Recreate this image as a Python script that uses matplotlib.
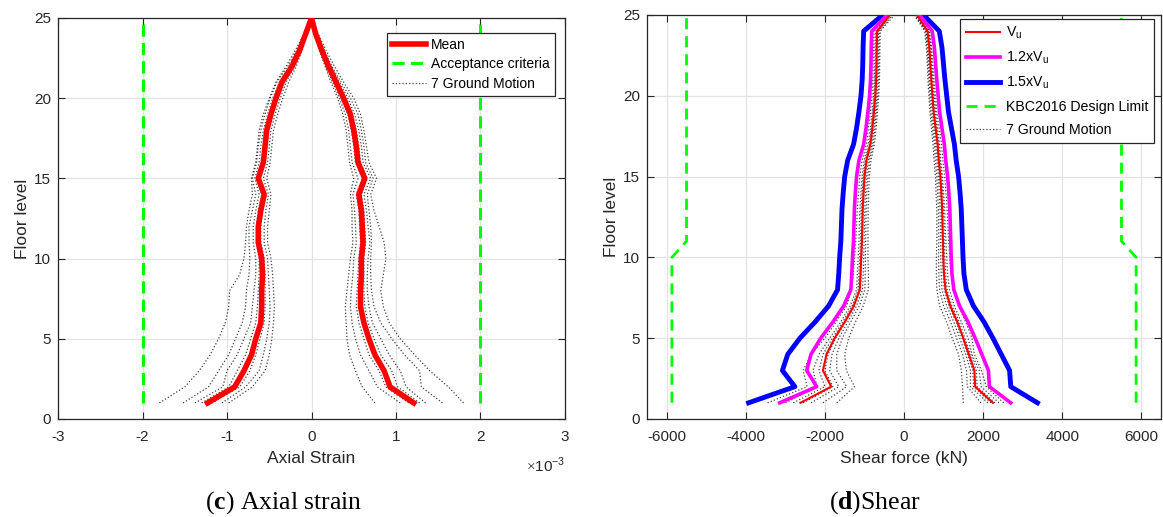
import matplotlib
matplotlib.use("Agg")
import matplotlib.pyplot as plt
from matplotlib.ticker import FuncFormatter
import numpy as np

plt.rcParams['font.family'] = ['Liberation Sans', 'DejaVu Sans']
plt.rcParams['axes.unicode_minus'] = False
plt.rcParams['mathtext.fontset'] = 'custom'
plt.rcParams['mathtext.rm'] = 'Liberation Serif'
plt.rcParams['mathtext.bf'] = 'Liberation Serif:bold'

floors = list(range(1, 26))

# ---- axial strain (x 1e-3) ----
strain_mean_pos = [1.21, 0.93, 0.86, 0.75, 0.68, 0.62, 0.58, 0.58, 0.59, 0.59, 0.61, 0.60, 0.59,
                   0.56, 0.63, 0.55, 0.53, 0.50, 0.46, 0.38, 0.29, 0.20, 0.12, 0.05, 0.0]
strain_mean_neg = [-1.23, -0.91, -0.80, -0.71, -0.66, -0.60, -0.59, -0.59, -0.58, -0.59, -0.63, -0.63, -0.60,
                   -0.56, -0.63, -0.57, -0.55, -0.53, -0.48, -0.42, -0.35, -0.23, -0.14, -0.07, 0.0]

strain_gm_pos = [
    [1.80, 1.62, 1.40, 1.22, 1.05, 0.92, 0.85, 0.82, 0.85, 0.88, 0.86, 0.80, 0.74, 0.70, 0.77, 0.68, 0.65, 0.62, 0.58, 0.50, 0.38, 0.27, 0.17, 0.08, 0.0],
    [1.55, 1.30, 1.28, 1.10, 0.95, 0.82, 0.74, 0.71, 0.70, 0.70, 0.71, 0.70, 0.68, 0.66, 0.73, 0.64, 0.62, 0.59, 0.55, 0.46, 0.35, 0.24, 0.15, 0.07, 0.0],
    [1.35, 1.12, 1.05, 0.92, 0.82, 0.72, 0.68, 0.66, 0.66, 0.67, 0.69, 0.67, 0.65, 0.62, 0.70, 0.61, 0.59, 0.56, 0.51, 0.43, 0.33, 0.23, 0.14, 0.06, 0.0],
    [1.28, 1.02, 0.95, 0.82, 0.74, 0.67, 0.63, 0.62, 0.62, 0.62, 0.64, 0.63, 0.62, 0.59, 0.66, 0.58, 0.56, 0.53, 0.48, 0.40, 0.31, 0.21, 0.13, 0.05, 0.0],
    [1.15, 0.88, 0.80, 0.68, 0.62, 0.56, 0.53, 0.54, 0.55, 0.56, 0.58, 0.57, 0.56, 0.53, 0.60, 0.52, 0.50, 0.47, 0.43, 0.35, 0.27, 0.19, 0.11, 0.05, 0.0],
    [1.05, 0.78, 0.68, 0.58, 0.52, 0.48, 0.46, 0.47, 0.49, 0.50, 0.53, 0.52, 0.51, 0.49, 0.55, 0.48, 0.46, 0.44, 0.40, 0.33, 0.25, 0.17, 0.10, 0.04, 0.0],
    [0.75, 0.60, 0.52, 0.45, 0.42, 0.41, 0.40, 0.42, 0.44, 0.46, 0.49, 0.48, 0.48, 0.46, 0.50, 0.45, 0.43, 0.41, 0.37, 0.31, 0.23, 0.16, 0.09, 0.04, 0.0],
]
strain_gm_neg = [
    [-1.80, -1.50, -1.33, -1.20, -1.10, -1.02, -0.98, -0.97, -0.85, -0.80, -0.78, -0.77, -0.74, -0.70, -0.71, -0.66, -0.64, -0.62, -0.57, -0.50, -0.42, -0.30, -0.19, -0.09, 0.0],
    [-1.52, -1.22, -1.10, -0.98, -0.90, -0.82, -0.78, -0.77, -0.74, -0.73, -0.74, -0.74, -0.70, -0.66, -0.70, -0.65, -0.63, -0.60, -0.55, -0.49, -0.41, -0.28, -0.17, -0.08, 0.0],
    [-1.38, -1.05, -1.00, -0.88, -0.80, -0.72, -0.70, -0.68, -0.66, -0.66, -0.69, -0.69, -0.66, -0.62, -0.67, -0.62, -0.60, -0.57, -0.52, -0.46, -0.38, -0.26, -0.16, -0.08, 0.0],
    [-1.30, -0.98, -0.88, -0.78, -0.72, -0.66, -0.64, -0.63, -0.62, -0.62, -0.65, -0.65, -0.63, -0.59, -0.65, -0.59, -0.57, -0.55, -0.50, -0.44, -0.36, -0.24, -0.15, -0.07, 0.0],
    [-1.18, -0.85, -0.73, -0.66, -0.61, -0.56, -0.55, -0.55, -0.55, -0.56, -0.60, -0.60, -0.58, -0.54, -0.61, -0.55, -0.53, -0.51, -0.46, -0.40, -0.33, -0.22, -0.13, -0.06, 0.0],
    [-1.06, -0.78, -0.62, -0.57, -0.53, -0.50, -0.49, -0.50, -0.51, -0.52, -0.56, -0.56, -0.54, -0.51, -0.57, -0.52, -0.50, -0.48, -0.43, -0.37, -0.30, -0.20, -0.12, -0.06, 0.0],
    [-0.98, -0.70, -0.55, -0.50, -0.47, -0.45, -0.44, -0.45, -0.46, -0.48, -0.52, -0.52, -0.50, -0.48, -0.53, -0.49, -0.47, -0.45, -0.40, -0.34, -0.27, -0.18, -0.11, -0.05, 0.0],
]
strain_limit = 2.0

# ---- shear force (kN) ----
vu_pos = [2250, 1800, 1780, 1640, 1500, 1350, 1170, 1050, 1010, 995, 985, 975, 965,
          945, 920, 880, 850, 800, 750, 720, 690, 665, 640, 595, 330]
vu_neg = [-2620, -1840, -2050, -1960, -1755, -1500, -1270, -1120, -1100, -1085, -1065, -1055, -1045,
          -1025, -1000, -950, -850, -800, -760, -725, -705, -695, -690, -680, -360]

shear_gm_pos = [
    [2520, 2080, 1960, 1780, 1720, 1560, 1380, 1260, 1190, 1160, 1130, 1110, 1090, 1060, 1030, 985, 950, 890, 830, 800, 760, 730, 700, 650, 430],
    [2400, 1950, 1900, 1720, 1620, 1450, 1270, 1150, 1100, 1080, 1060, 1040, 1030, 1000, 975, 930, 900, 850, 800, 770, 735, 705, 680, 630, 390],
    [2300, 1850, 1830, 1690, 1540, 1400, 1210, 1090, 1050, 1030, 1020, 1010, 1000, 975, 950, 910, 875, 825, 775, 745, 715, 690, 660, 615, 350],
    [2200, 1760, 1740, 1610, 1470, 1320, 1140, 1020, 990, 975, 965, 955, 945, 925, 900, 860, 830, 780, 735, 705, 675, 650, 625, 580, 320],
    [2120, 1680, 1680, 1560, 1410, 1260, 1080, 960, 940, 930, 925, 920, 910, 890, 870, 830, 800, 755, 710, 680, 650, 630, 605, 560, 300],
    [1950, 1600, 1580, 1480, 1330, 1180, 1000, 900, 880, 875, 880, 875, 870, 850, 830, 795, 770, 725, 680, 655, 630, 610, 585, 545, 280],
    [1500, 1480, 1450, 1380, 1220, 1080, 900, 830, 820, 820, 830, 830, 830, 810, 795, 760, 735, 695, 655, 630, 605, 590, 565, 525, 260],
]
shear_gm_neg = [
    [-3450, -2450, -2550, -2350, -2000, -1720, -1450, -1330, -1280, -1250, -1220, -1200, -1180, -1150, -1120, -1060, -950, -900, -850, -810, -790, -780, -770, -760, -490],
    [-3000, -2200, -2300, -2150, -1880, -1600, -1360, -1200, -1180, -1160, -1140, -1130, -1115, -1090, -1060, -1010, -905, -850, -805, -770, -750, -740, -735, -720, -420],
    [-2800, -2000, -2150, -2050, -1810, -1550, -1310, -1160, -1140, -1120, -1100, -1090, -1080, -1060, -1030, -980, -875, -825, -785, -750, -730, -720, -710, -700, -380],
    [-2550, -1800, -2000, -1920, -1730, -1480, -1250, -1100, -1080, -1065, -1050, -1040, -1030, -1010, -985, -935, -840, -790, -750, -715, -695, -685, -680, -670, -350],
    [-2350, -1650, -1880, -1820, -1650, -1420, -1200, -1050, -1030, -1020, -1010, -1000, -990, -975, -950, -900, -810, -760, -720, -690, -670, -660, -655, -645, -320],
    [-2050, -1450, -1700, -1700, -1560, -1350, -1130, -990, -980, -975, -970, -965, -955, -940, -915, -870, -780, -735, -700, -665, -645, -640, -635, -625, -290],
    [-1700, -1250, -1460, -1500, -1400, -1230, -1030, -900, -900, -910, -910, -910, -905, -895, -875, -835, -750, -705, -670, -640, -620, -615, -610, -600, -240],
]

# KBC2016 design limit (kN) against floor level
limit_floor = [1, 10, 11, 25]
limit_shear = [5870, 5870, 5500, 5500]

GREEN = (0, 1, 0)
GRID = '#e3e3e3'
SPINE = '#262626'


def style_axes(ax):
    ax.grid(True, color=GRID, lw=0.9)
    ax.set_axisbelow(True)
    ax.tick_params(direction='in', top=True, right=True, length=5, width=0.8,
                   colors=SPINE, labelsize=11, labelcolor='#262626')
    ax.tick_params(axis='x', pad=8)
    ax.tick_params(axis='y', pad=5)
    for s in ax.spines.values():
        s.set_color(SPINE)
        s.set_linewidth(0.9)


fig = plt.figure(figsize=(11.63, 5.17), dpi=100)

# Axial strain panel
ax1 = fig.add_axes([0.0499, 0.1896, 0.4359, 0.7756])
e = 1e-3
for i, (gp, gn) in enumerate(zip(strain_gm_pos, strain_gm_neg)):
    lbl = '7 Ground Motion' if i == 0 else None
    ax1.plot(np.array(gp) * e, floors, ls=':', color='k', lw=0.9, alpha=0.75, label=lbl)
    ax1.plot(np.array(gn) * e, floors, ls=':', color='k', lw=0.9, alpha=0.75)
ax1.plot(np.array(strain_mean_pos) * e, floors, color='red', lw=4, label='Mean', zorder=5)
ax1.plot(np.array(strain_mean_neg) * e, floors, color='red', lw=4, zorder=5)
ax1.plot([strain_limit * e] * 2, [1, 25], color=GREEN, lw=2.2, dashes=(4, 2),
         label='Acceptance criteria', zorder=4)
ax1.plot([-strain_limit * e] * 2, [1, 25], color=GREEN, lw=2.2, dashes=(4, 2), zorder=4)
ax1.set_xlim(-3e-3, 3e-3)
ax1.set_ylim(0, 25)
ax1.set_xticks(np.arange(-3, 4) * e)
ax1.set_yticks(range(0, 26, 5))
ax1.xaxis.set_major_formatter(FuncFormatter(lambda v, p: '%g' % round(v / e, 6)))
ax1.text(1.0, -0.115, r'$\times$10$^{\mathregular{-3}}$', transform=ax1.transAxes,
         ha='right', va='center', fontsize=11, color='#262626')
ax1.set_xlabel('Axial Strain', fontsize=12.5, color='#262626', labelpad=5)
ax1.set_ylabel('Floor level', fontsize=12.5, color='#262626', labelpad=3)
style_axes(ax1)
h, l = ax1.get_legend_handles_labels()
order = [l.index('Mean'), l.index('Acceptance criteria'), l.index('7 Ground Motion')]
leg1 = ax1.legend([h[k] for k in order], [l[k] for k in order], loc='upper right',
                  bbox_to_anchor=(0.98, 0.963), fontsize=10, fancybox=False,
                  framealpha=1, edgecolor=SPINE, handlelength=2.4, handletextpad=0.4,
                  borderpad=0.35, labelspacing=0.4, borderaxespad=0)
leg1.get_frame().set_linewidth(0.9)

# Shear panel
ax2 = fig.add_axes([0.5563, 0.1896, 0.4420, 0.7814])
for i, (gp, gn) in enumerate(zip(shear_gm_pos, shear_gm_neg)):
    lbl = '7 Ground Motion' if i == 0 else None
    ax2.plot(gp, floors, ls=':', color='k', lw=0.9, alpha=0.75, label=lbl)
    ax2.plot(gn, floors, ls=':', color='k', lw=0.9, alpha=0.75)
vp = np.array(vu_pos)
vn = np.array(vu_neg)
ax2.plot(1.5 * vp, floors, color='blue', lw=3.5, label=r'1.5xV$_\mathregular{u}$', zorder=3)
ax2.plot(1.5 * vn, floors, color='blue', lw=3.5, zorder=3)
ax2.plot(1.2 * vp, floors, color='magenta', lw=2.6, label=r'1.2xV$_\mathregular{u}$', zorder=4)
ax2.plot(1.2 * vn, floors, color='magenta', lw=2.6, zorder=4)
ax2.plot(vp, floors, color='red', lw=1.5, label=r'V$_\mathregular{u}$', zorder=5)
ax2.plot(vn, floors, color='red', lw=1.5, zorder=5)
ax2.plot(limit_shear, limit_floor, color=GREEN, lw=2, dashes=(4, 2.5),
         label='KBC2016 Design Limit', zorder=4)
ax2.plot([-v for v in limit_shear], limit_floor, color=GREEN, lw=2, dashes=(4, 2.5), zorder=4)
ax2.set_xlim(-6500, 6500)
ax2.set_ylim(0, 25)
ax2.set_xticks(range(-6000, 6001, 2000))
ax2.set_yticks(range(0, 26, 5))
ax2.set_xlabel('Shear force (kN)', fontsize=12.5, color='#262626', labelpad=5)
ax2.set_ylabel('Floor level', fontsize=12.5, color='#262626', labelpad=3)
style_axes(ax2)
h, l = ax2.get_legend_handles_labels()
names = [r'V$_\mathregular{u}$', r'1.2xV$_\mathregular{u}$', r'1.5xV$_\mathregular{u}$',
         'KBC2016 Design Limit', '7 Ground Motion']
order = [l.index(n) for n in names]
leg2 = ax2.legend([h[k] for k in order], [l[k] for k in order], loc='upper right',
                  bbox_to_anchor=(0.986, 0.99), fontsize=10.2, fancybox=False,
                  framealpha=1, edgecolor=SPINE, handlelength=2.4, handletextpad=0.4,
                  borderpad=0.4, labelspacing=0.62, borderaxespad=0)
leg2.get_frame().set_linewidth(0.9)

# panel captions
fig.text(0.2442, 0.028, r'($\mathbf{c}$) Axial strain', ha='center', va='center',
         fontsize=18.5, family='Liberation Serif')
fig.text(0.7524, 0.028, r'($\mathbf{d}$)Shear', ha='center', va='center',
         fontsize=18.5, family='Liberation Serif')

fig.savefig('out.png', dpi=100)
